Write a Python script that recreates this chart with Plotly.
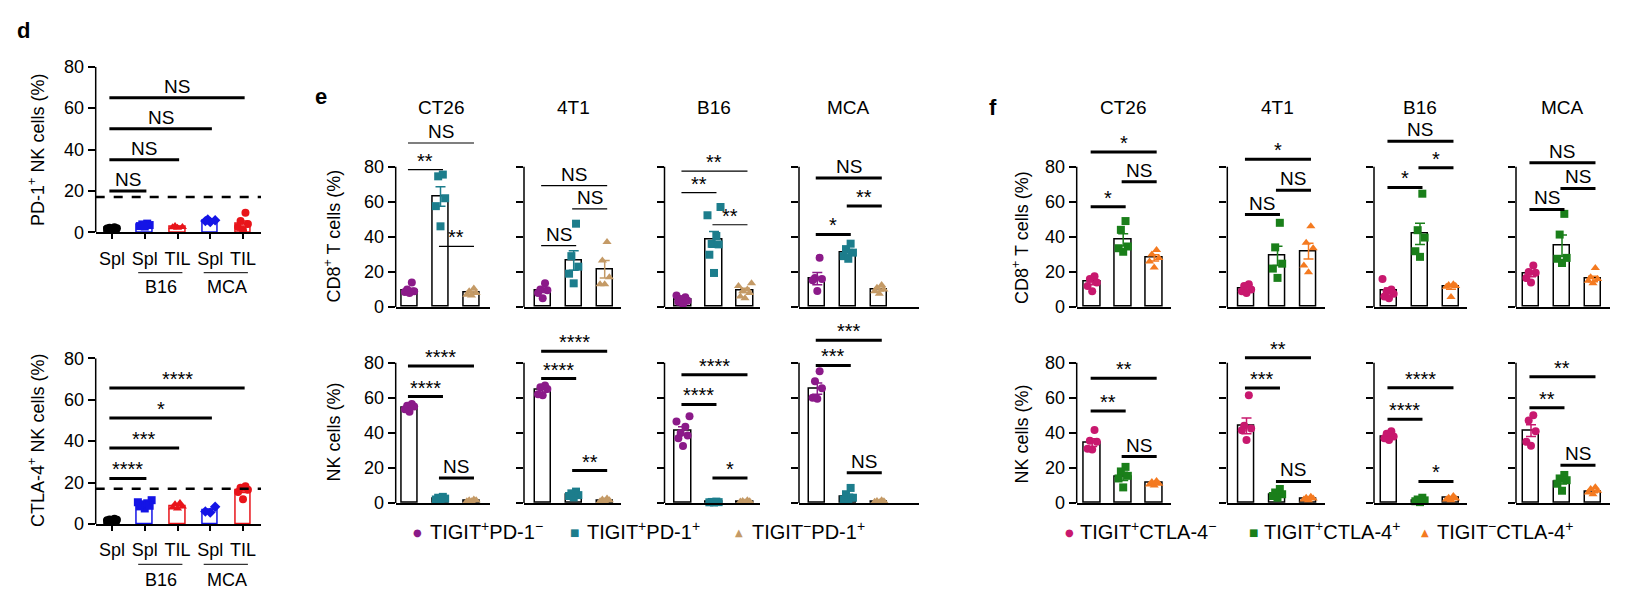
import plotly.graph_objects as go

# ======================= DATA =======================
# Panel d
d_categories = ["Spl", "Spl", "TIL", "Spl", "TIL"]
d_groups = ["B16", "MCA"]
d_group_span = [[1, 2], [3, 4]]
d_threshold = 17

pd1_means = [2.0, 3.6, 2.6, 5.6, 4.0]
pd1_sem = [0.2, 0.3, 0.2, 0.3, 1.4]
pd1_points = [
    [1.5, 2.0, 2.4, 1.8, 2.2],
    [3.0, 3.5, 4.2, 3.8, 2.8],
    [2.2, 2.6, 3.0, 2.4],
    [5.0, 5.8, 6.2, 5.4],
    [9.5, 5.5, 4.0, 2.5, 1.0],
]
pd1_sig = [(0, 1, 20, "NS"), (0, 2, 35, "NS"), (0, 3, 50, "NS"), (0, 4, 65, "NS")]

ctla4_means = [2.0, 9.6, 8.5, 6.5, 16.2]
ctla4_sem = [0.3, 0.6, 0.5, 0.8, 1.0]
ctla4_points = [
    [1.5, 2.0, 2.5, 2.2, 1.8],
    [7.5, 8.5, 9.5, 10.5, 11.5, 10.0, 8.8],
    [7.5, 8.0, 8.5, 9.5, 10.2],
    [5.5, 6.0, 8.3],
    [12.0, 15.5, 16.5, 17.5, 18.2],
]
ctla4_sig = [(0, 1, 22, "****"), (0, 2, 36.7, "***"), (0, 3, 51.2, "*"), (0, 4, 65.7, "****")]

# Panels e and f
tumors = ["CT26", "4T1", "B16", "MCA"]
e_series = ["TIGIT<sup>+</sup>PD-1<sup>−</sup>", "TIGIT<sup>+</sup>PD-1<sup>+</sup>", "TIGIT<sup>−</sup>PD-1<sup>+</sup>"]
f_series = ["TIGIT<sup>+</sup>CTLA-4<sup>−</sup>", "TIGIT<sup>+</sup>CTLA-4<sup>+</sup>", "TIGIT<sup>−</sup>CTLA-4<sup>+</sup>"]

e_cd8_means = [[9.5, 63.0, 8.2], [9.5, 26.5, 21.5], [4.0, 38.5, 9.5], [16.2, 31.3, 10.0]]
e_cd8_sem = [[1.2, 5.5, 0.8], [1.3, 5.5, 5.0], [0.7, 4.5, 1.2], [3.5, 1.5, 0.9]]
e_cd8_points = [
    [[14, 10, 9, 8.5, 8], [74.5, 75.5, 62, 57.5, 46], [10.5, 9, 8, 7, 6.5]],
    [[13.5, 10, 9.5, 8, 5], [47.5, 29, 23, 19, 13.5], [37, 26.5, 17, 13, 13]],
    [[6.5, 5.5, 4.5, 3.5, 3, 1.5], [57, 52.3, 40.5, 36, 35.7, 29.8, 19.4], [13.5, 12, 10, 9, 8, 6, 5]],
    [[28.1, 16.5, 16, 15.2, 9.1], [36.1, 33, 31, 29, 27.5], [12.5, 11, 10, 9, 7.5]],
]
e_cd8_sig = [
    [(0, 1, 78.3, "**"), (1, 2, 34.6, "**"), (0, 2, 93.5, "NS")],
    [(0, 1, 35.0, "NS"), (1, 2, 56.0, "NS"), (0, 2, 69.2, "NS")],
    [(0, 1, 65.2, "**"), (1, 2, 46.9, "**"), (0, 2, 77.5, "**")],
    [(0, 1, 41.4, "*"), (1, 2, 57.6, "**"), (0, 2, 73.5, "NS")],
]

e_nk_means = [[54.5, 2.5, 1.5], [64.4, 4.8, 1.6], [41.3, 0.5, 1.0], [65.3, 3.5, 1.0]]
e_nk_sem = [[0.7, 0.3, 0.2], [1.2, 0.5, 0.3], [2.2, 0.1, 0.2], [3.2, 1.5, 0.2]]
e_nk_points = [
    [[56.5, 55.5, 55, 53.5, 52], [3.5, 3, 2.5, 2, 2], [2, 1.5, 1.5, 1, 1]],
    [[67, 66, 65, 62, 61.5], [6.5, 5.5, 4.5, 4, 3.2], [2.5, 2, 1.5, 1, 1]],
    [[49.5, 46.5, 43.5, 40, 38.5, 37, 32.5], [0.8, 0.6, 0.5, 0.4, 0.3], [1.5, 1.2, 1, 0.8, 0.5]],
    [[75.2, 69.5, 65.5, 60, 59.5], [8.6, 5, 3, 2, 1.5], [1.5, 1.2, 1, 0.7, 0.5]],
]
e_nk_sig = [
    [(0, 1, 60.7, "****"), (0, 2, 78.1, "****"), (1, 2, 14.3, "NS")],
    [(0, 1, 71.0, "****"), (0, 2, 86.5, "****"), (1, 2, 18.5, "**")],
    [(0, 1, 56.2, "****"), (0, 2, 73.1, "****"), (1, 2, 14.3, "*")],
    [(0, 1, 78.5, "***"), (0, 2, 92.8, "***"), (1, 2, 17.2, "NS")],
]

f_cd8_means = [[14.3, 38.3, 28.0], [10.3, 29.1, 31.8], [9.3, 41.7, 11.4], [18.9, 35.0, 16.0]]
f_cd8_sem = [[1.6, 3.5, 1.8], [0.9, 5.5, 4.5], [1.6, 6.0, 1.3], [1.6, 6.0, 1.6]]
f_cd8_points = [
    [[17.5, 16, 14, 12, 9], [49, 44, 34.5, 33.5, 31.5], [32.5, 30, 28, 26, 22.5]],
    [[13, 12, 10, 9, 8], [48, 34, 24.7, 21.9, 16.6], [46, 36.6, 33.5, 23.6, 19.8]],
    [[16, 10, 9, 7.5, 6, 5], [64.6, 43.8, 39.6, 31.8, 28.6], [13, 12.5, 12, 11.5, 5.7]],
    [[23.6, 20, 19.5, 16.5, 14], [53.1, 41.3, 28, 27.5, 25.1], [22.3, 17, 16, 15, 13.5]],
]
f_cd8_sig = [
    [(0, 1, 57.1, "*"), (1, 2, 71.4, "NS"), (0, 2, 88.3, "*")],
    [(0, 1, 52.7, "NS"), (1, 2, 66.5, "NS"), (0, 2, 84.2, "*")],
    [(0, 1, 68.2, "*"), (1, 2, 79.4, "*"), (0, 2, 94.5, "NS")],
    [(0, 1, 55.6, "NS"), (1, 2, 67.6, "NS"), (0, 2, 82.3, "NS")],
]

f_nk_means = [[34.5, 15.2, 11.4], [44.0, 5.0, 2.5], [38.1, 1.5, 2.8], [41.3, 12.3, 6.6]]
f_nk_sem = [[2.2, 2.3, 0.5], [4.5, 0.9, 0.4], [0.8, 0.3, 0.4], [3.4, 1.4, 0.7]]
f_nk_points = [
    [[41.7, 35.5, 35, 31, 30.5], [20.6, 18, 15.5, 14, 8.9], [12.5, 12, 11, 10.5, 10]],
    [[61.4, 44, 42.5, 41.5, 36], [8, 6, 5, 4, 3], [3.5, 3, 2.5, 2, 1.5]],
    [[41, 39.5, 38, 37, 36], [3, 2, 1.5, 1, 0.5], [4, 3, 2.5, 2, 1.5]],
    [[50, 47, 41, 34.9, 32.6], [16, 14, 13, 11, 7], [9, 8, 7, 6, 5]],
]
f_nk_sig = [
    [(0, 1, 52.5, "**"), (1, 2, 26.5, "NS"), (0, 2, 71.2, "**")],
    [(0, 1, 65.6, "***"), (1, 2, 12.3, "NS"), (0, 2, 82.8, "**")],
    [(0, 1, 47.8, "****"), (1, 2, 12.3, "*"), (0, 2, 65.8, "****")],
    [(0, 1, 54.4, "**"), (1, 2, 21.6, "NS"), (0, 2, 72.0, "**")],
]

y_ticks = [0, 20, 40, 60, 80]

# ======================= STYLE / LAYOUT =======================
W, H = 1627, 595
FONT = "Liberation Sans, Arial, Helvetica, sans-serif"
d_colors = ["#000000", "#1414E6", "#E8141A", "#1414E6", "#E8141A"]
d_symbols = ["circle", "square", "triangle-up", "diamond", "circle"]
e_colors = ["#8B1A89", "#1C7D8C", "#C49A66"]
f_colors = ["#C8186E", "#1A7F1A", "#F47A20"]
sym3 = ["circle", "square", "triangle-up"]

PATTERN = [0.0, -0.15, 0.15, -0.075, 0.075, -0.21, 0.21]


def spread(vals):
    order = sorted(range(len(vals)), key=lambda k: vals[k])
    off = [0.0] * len(vals)
    for rank, k in enumerate(order):
        off[k] = PATTERN[rank % len(PATTERN)]
    return off


def px(x):
    return x / W


def py(y):
    return 1 - y / H


fig = go.Figure()
layout = {}
shapes = []
annotations = []
counter = [0]


def label(**kw):
    kw.setdefault("showarrow", False)
    kw.setdefault("xanchor", "center")
    kw.setdefault("yanchor", "middle")
    annotations.append(kw)


def add_axes(xl, xr, x0, step, y0, ppu, ymax, show_ylabels, cats=None):
    counter[0] += 1
    n = counter[0]
    xa = "x" if n == 1 else f"x{n}"
    ya = "y" if n == 1 else f"y{n}"
    xk = "xaxis" if n == 1 else f"xaxis{n}"
    yk = "yaxis" if n == 1 else f"yaxis{n}"
    xaxis = dict(domain=[px(xl), px(xr)], range=[(xl - x0) / step, (xr - x0) / step],
                 anchor=ya, showline=True, linecolor="black", linewidth=1.5,
                 showgrid=False, zeroline=False, fixedrange=True, automargin=False)
    if cats:
        xaxis.update(tickvals=list(range(len(cats))), ticktext=cats, ticks="outside",
                     ticklen=5, tickwidth=1.5, tickcolor="black", ticklabelstandoff=4,
                     tickfont=dict(size=18, color="black", family=FONT))
    else:
        xaxis.update(ticks="", showticklabels=False)
    layout[xk] = xaxis
    layout[yk] = dict(domain=[py(y0), py(y0 - ymax * ppu)], range=[0, ymax], anchor=xa,
                      showline=False, showgrid=False, zeroline=False, ticks="outside",
                      ticklen=7, tickwidth=1.5, tickcolor="black", tickvals=y_ticks,
                      showticklabels=show_ylabels, fixedrange=True, automargin=False,
                      tickfont=dict(size=18, color="black", family=FONT))
    shapes.append(dict(type="line", xref=f"{xa} domain", yref=ya, x0=0, x1=0, y0=0, y1=80,
                       line=dict(color="black", width=1.5)))
    return xa, ya


def draw_group(xa, ya, means, sem, points, colors, symbols, outline, bw):
    n = len(means)
    fig.add_trace(go.Bar(x=list(range(n)), y=means, width=bw, xaxis=xa, yaxis=ya,
                         marker=dict(color="white", line=dict(color=outline, width=1.5)),
                         showlegend=False, hoverinfo="skip"))
    for i in range(n):
        offs = spread(points[i])
        fig.add_trace(go.Scatter(x=[i + o for o in offs], y=points[i], mode="markers",
                                 xaxis=xa, yaxis=ya, cliponaxis=False, showlegend=False,
                                 hoverinfo="skip",
                                 marker=dict(color=colors[i], symbol=symbols[i], size=8,
                                             line=dict(width=0))))
        fig.add_trace(go.Scatter(x=[i], y=[means[i]], mode="markers", xaxis=xa, yaxis=ya,
                                 cliponaxis=False, showlegend=False, hoverinfo="skip",
                                 marker=dict(size=1, opacity=0),
                                 error_y=dict(type="data", array=[sem[i]], color=colors[i],
                                              thickness=1.5, width=5)))


def draw_sig(xa, ya, sigs, lw, left_pad=0.05, right_pad=0.08):
    for (i, j, lvl, lab) in sigs:
        x0, x1 = i - left_pad, j + right_pad
        shapes.append(dict(type="line", xref=xa, yref=ya, x0=x0, x1=x1, y0=lvl, y1=lvl,
                           line=dict(color="black", width=lw)))
        star = lab.startswith("*")
        label(xref=xa, yref=ya, x=(x0 + x1) / 2, y=lvl, text=lab, yanchor="bottom",
              yshift=-4 if star else -1,
              font=dict(size=20 if star else 19, color="black", family=FONT))


# ---------- Panel d ----------
d_rows = [(232.3, 2.07, pd1_means, pd1_sem, pd1_points, pd1_sig, "PD-1<sup>+</sup> NK cells (%)", 150, 272.7, 287),
          (524.0, 2.071, ctla4_means, ctla4_sem, ctla4_points, ctla4_sig, "CTLA-4<sup>+</sup> NK cells (%)", 441, 564.3, 580)]
for (y0, ppu, means, sem, pts, sig, title, ty, gl, gt) in d_rows:
    xa, ya = add_axes(95.7, 261, 112, 32.75, y0, ppu, 80, True, cats=d_categories)
    shapes.append(dict(type="line", xref=f"{xa} domain", yref=ya, x0=0, x1=1,
                       y0=d_threshold, y1=d_threshold,
                       line=dict(color="black", width=2.5, dash="dash")))
    draw_group(xa, ya, means, sem, pts, d_colors, d_symbols, d_colors, 0.47)
    draw_sig(xa, ya, sig, 3, left_pad=0.08, right_pad=0.05)
    label(xref="paper", yref="paper", x=px(36), y=py(ty), text=title, textangle=-90,
          font=dict(size=18, color="black", family=FONT))
    for g, (a, b) in zip(d_groups, d_group_span):
        shapes.append(dict(type="line", xref=xa, yref="paper", x0=a - 0.2, x1=b + 0.15,
                           y0=py(gl), y1=py(gl), line=dict(color="black", width=1)))
        label(xref=xa, yref="paper", x=(a + b) / 2, y=py(gt), text=g,
              font=dict(size=18, color="black", family=FONT))

# ---------- Panels e and f ----------
e_cols = [(395.7, 490, 409.5), (524, 621, 542.7), (664.5, 760, 683), (799, 919, 817.3)]
f_cols = [(1076.7, 1170.7, 1092.2), (1227.3, 1325, 1246.5), (1374, 1466.7, 1389), (1516, 1610, 1531)]
rows = [(307.0, 1.754), (503.0, 1.753)]
panels = [
    (e_cols, e_colors, [(e_cd8_means, e_cd8_sem, e_cd8_points, e_cd8_sig),
                        (e_nk_means, e_nk_sem, e_nk_points, e_nk_sig)], [(0, 0), (0, 1), (0, 2)]),
    (f_cols, f_colors, [(f_cd8_means, f_cd8_sem, f_cd8_points, f_cd8_sig),
                        (f_nk_means, f_nk_sem, f_nk_points, f_nk_sig)], []),
]
for (cols, colors, rowdata, thin) in panels:
    for r, (y0, ppu) in enumerate(rows):
        means_all, sem_all, pts_all, sig_all = rowdata[r]
        for c, (xl, xr, x0) in enumerate(cols):
            xa, ya = add_axes(xl, xr, x0, 31, y0, ppu, 108, c == 0)
            draw_group(xa, ya, means_all[c], sem_all[c], pts_all[c], colors, sym3, "black", 0.52)
            lw = 1.2 if (r, c) in thin else 3
            draw_sig(xa, ya, sig_all[c], lw)
            if r == 0:
                label(xref=xa, yref="paper", x=1, y=py(107), text=tumors[c],
                      font=dict(size=19, color="black", family=FONT))

# Axis titles for e and f
for xc, ycs in [(333, [(236.5, "CD8<sup>+</sup> T cells (%)"), (432.5, "NK cells (%)")]),
                (1021, [(237, "CD8<sup>+</sup> T cells (%)"), (433.5, "NK cells (%)")])]:
    for yc, t in ycs:
        label(xref="paper", yref="paper", x=px(xc), y=py(yc), text=t, textangle=-90,
              font=dict(size=18, color="black", family=FONT))

# Panel letters
for letter, (lx, ly) in zip(["d", "e", "f"], [(23, 30), (321, 97), (993, 107)]):
    label(xref="paper", yref="paper", x=px(lx), y=py(ly), text=f"<b>{letter}</b>",
          font=dict(size=22, color="black", family=FONT))

# Legends
glyphs = ["●", "■", "▲"]
for series, colors, mx, tx, ly in [
        (e_series, e_colors, [417.7, 574, 739], [428, 585, 750], 530),
        (f_series, f_colors, [1069, 1253.3, 1425], [1078, 1262, 1435], 530.7)]:
    for k in range(3):
        label(xref="paper", yref="paper", x=px(mx[k]), y=py(ly + 2), text=glyphs[k],
              font=dict(size=10, color=colors[k], family="DejaVu Sans"))
        label(xref="paper", yref="paper", x=px(tx[k]), y=py(ly), text=series[k],
              xanchor="left", font=dict(size=20, color="black", family=FONT))

fig.update_layout(template="none", width=W, height=H,
                  margin=dict(l=0, r=0, t=0, b=0, pad=0, autoexpand=False),
                  paper_bgcolor="white", plot_bgcolor="white", showlegend=False,
                  font=dict(family=FONT, color="black"), shapes=shapes,
                  annotations=annotations, bargap=0, **layout)

fig.write_html("out.html", config={"displayModeBar": False},
               post_script="document.body.style.margin='0';")
